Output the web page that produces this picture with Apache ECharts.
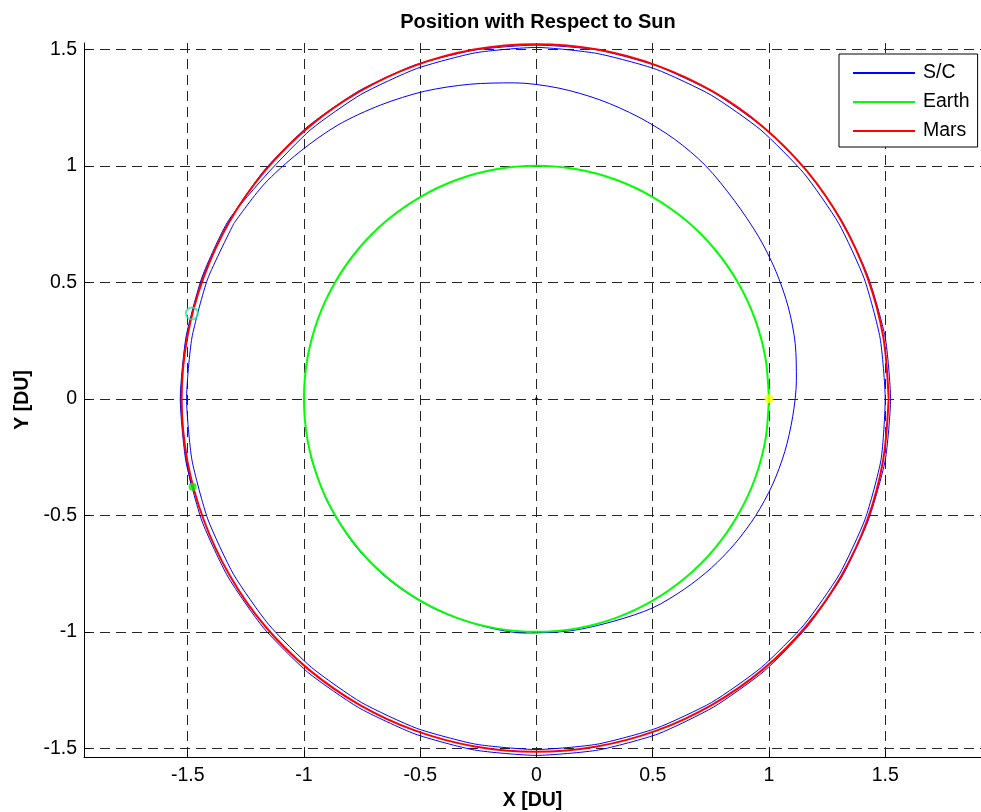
<!DOCTYPE html>
<html>
<head>
<meta charset="utf-8">
<script src="https://cdn.jsdelivr.net/npm/echarts@6/dist/echarts.min.js"></script>
<style>html,body{margin:0;padding:0;background:#fff;}#c{width:981px;height:812px;}</style>
</head>
<body>
<div id="c"></div>
<script>
// ---- data ----
var xTicks = [-1.5, -1, -0.5, 0, 0.5, 1, 1.5];
var yTicks = [-1.5, -1, -0.5, 0, 0.5, 1, 1.5];

var earthOrbit = [[1,0],[0.985,0.174],[0.940,0.342],[0.866,0.5],[0.766,0.643],[0.643,0.766],[0.5,0.866],[0.342,0.940],[0.174,0.985],[0,1],[-0.174,0.985],[-0.342,0.940],[-0.5,0.866],[-0.643,0.766],[-0.766,0.643],[-0.866,0.5],[-0.940,0.342],[-0.985,0.174],[-1,0],[-0.985,-0.174],[-0.940,-0.342],[-0.866,-0.5],[-0.766,-0.643],[-0.643,-0.766],[-0.5,-0.866],[-0.342,-0.940],[-0.174,-0.985],[0,-1],[0.174,-0.985],[0.342,-0.940],[0.5,-0.866],[0.643,-0.766],[0.766,-0.643],[0.866,-0.5],[0.940,-0.342],[0.985,-0.174],[1,0]];

var marsOrbit = [[1.515,0],[1.492,0.264],[1.424,0.520],[1.312,0.762],[1.161,0.980],[0.975,1.167],[0.758,1.319],[0.519,1.430],[0.263,1.499],[-0.003,1.522],[-0.268,1.499],[-0.523,1.430],[-0.762,1.318],[-0.980,1.166],[-1.167,0.979],[-1.320,0.761],[-1.432,0.520],[-1.502,0.264],[-1.526,0],[-1.502,-0.264],[-1.431,-0.520],[-1.318,-0.760],[-1.166,-0.977],[-0.979,-1.162],[-0.761,-1.313],[-0.521,-1.424],[-0.265,-1.492],[-0.003,-1.515],[0.260,-1.492],[0.516,-1.424],[0.755,-1.313],[0.973,-1.162],[1.159,-0.977],[1.311,-0.760],[1.423,-0.520],[1.491,-0.264],[1.515,0]];

var scDeparture = [[-0.97,-0.25],[-0.90,-0.44],[-0.78,-0.63],[-0.63,-0.78],[-0.45,-0.895],[-0.25,-0.97],[-0.05,-1.005],[0.15,-0.995],[0.33,-0.955],[0.5,-0.897]];

var scTransfer = [[0.637,-0.816],[0.752,-0.726],[0.854,-0.621],[0.943,-0.501],[1.015,-0.369],[1.068,-0.227],[1.102,-0.077],[1.118,0.078],[1.113,0.237],[1.083,0.394],[1.030,0.547],[0.956,0.695],[0.851,0.851],[0.727,1.001],[0.593,1.115],[0.440,1.209],[0.273,1.283],[0.093,1.334],[-0.095,1.356],[-0.287,1.350],[-0.481,1.320],[-0.670,1.261],[-0.854,1.175],[-1.022,1.057],[-1.174,0.918],[-1.302,0.752]];

var scLoopInner = [[-1.302,0.752],[-1.414,0.515],[-1.482,0.261],[-1.505,0],[-1.482,-0.261],[-1.414,-0.515],[-1.303,-0.753],[-1.153,-0.967],[-0.967,-1.153],[-0.753,-1.303],[-0.515,-1.414],[-0.261,-1.482],[0,-1.505],[0.261,-1.482],[0.515,-1.414],[0.753,-1.303],[0.967,-1.153],[1.153,-0.967],[1.303,-0.753],[1.414,-0.515],[1.482,-0.261],[1.500,0],[1.478,0.261],[1.410,0.515],[1.300,0.753],[1.151,0.967],[0.966,1.153],[0.752,1.303],[0.515,1.414],[0.261,1.482],[0,1.508],[-0.262,1.485],[-0.516,1.417],[-0.755,1.306],[-0.970,1.156],[-1.155,0.969]];

var scLoopOuter = [[-1.325,0.765],[-1.438,0.523],[-1.507,0.266],[-1.532,0],[-1.508,-0.266],[-1.439,-0.524],[-1.326,-0.765],[-1.173,-0.984],[-0.984,-1.173],[-0.765,-1.325],[-0.523,-1.438],[-0.266,-1.507],[0,-1.53],[0.266,-1.507],[0.523,-1.438],[0.763,-1.322],[0.980,-1.168],[1.165,-0.978],[1.316,-0.760],[1.428,-0.520],[1.500,-0.264],[1.523,0],[1.500,0.264],[1.428,0.520],[1.316,0.760],[1.164,0.977],[0.977,1.164],[0.760,1.316],[0.520,1.428],[0.264,1.497],[0,1.518],[-0.264,1.497],[-0.522,1.433],[-0.763,1.322],[-0.982,1.170],[-1.170,0.982],[-1.322,0.763],[-1.435,0.522],[-1.505,0.265],[-1.530,0],[-1.506,-0.265],[-1.485,-0.370]];

var sunPos = [[0, 0]];
var startPos = [[1, 0]];
var marsEndPos = [[-1.479, -0.377]];
var scEndPos = [[-1.482, 0.366]];

// ---- chart ----
var FONT = '"Liberation Sans", Arial, sans-serif';
var scOutbound = scDeparture.concat(scTransfer);
var scAtMars = scLoopInner.concat(scLoopOuter);
var chart = echarts.init(document.getElementById('c'), null, {renderer: 'canvas'});

function valueAxis(min, max, ticks, name, gap, isY) {
  return {
    type: 'value', min: min, max: max,
    minInterval: 0.5, maxInterval: 0.5, splitNumber: 7,
    name: name, nameLocation: 'middle', nameGap: gap,
    nameRotate: isY ? 90 : 0,
    nameTextStyle: {fontFamily: FONT, fontSize: 19.5, fontWeight: 'bold', color: '#000'},
    axisLine: {show: true, onZero: false, lineStyle: {color: '#000', width: 1}},
    axisTick: {show: true, inside: true, length: 6, lineStyle: {color: '#000'}},
    axisLabel: {show: true, margin: isY ? 7 : 9, fontFamily: FONT, fontSize: 19.5, color: '#000',
      showMinLabel: false, showMaxLabel: false},
    splitLine: {show: true, showMinLine: false, showMaxLine: false,
      lineStyle: {color: '#262626', width: 1, type: [10, 6]}}
  };
}

var option = {
  backgroundColor: '#fff',
  animation: false,
  title: {
    text: 'Position with Respect to Sun',
    left: 533, top: 7, textAlign: 'center',
    textStyle: {fontFamily: FONT, fontSize: 20, fontWeight: 'bold', color: '#000'}
  },
  legend: {
    data: ['S/C', 'Earth', 'Mars'],
    orient: 'vertical',
    left: 839, top: 54,
    padding: [9, 8, 6, 13],
    itemWidth: 62, itemHeight: 20, itemGap: 9,
    itemStyle: {opacity: 0},
    backgroundColor: '#fff', borderColor: '#000', borderWidth: 1, borderRadius: 0,
    textStyle: {fontFamily: FONT, fontSize: 19.5, lineHeight: 20, color: '#000', padding: [0, 0, 0, 3]},
    selectedMode: false
  },
  grid: {left: 84, right: 0, top: 43, bottom: 55, containLabel: false, outerBoundsMode: 'none'},
  xAxis: valueAxis(-1.946, 1.912, xTicks, 'X [DU]', 26, false),
  yAxis: valueAxis(-1.537, 1.527, yTicks, 'Y [DU]', 51, true),
  series: [
    {name: 'S/C', type: 'line', data: scOutbound, symbol: 'none', showSymbol: false,
      lineStyle: {color: '#0000ff', width: 1}, itemStyle: {color: '#0000ff'}, smooth: 0.3, z: 2},
    {name: 'S/C', type: 'line', data: scAtMars, symbol: 'none', showSymbol: false,
      lineStyle: {color: '#0000ff', width: 1}, itemStyle: {color: '#0000ff'}, smooth: 0.2, z: 2},
    {name: 'Earth', type: 'line', data: earthOrbit, symbol: 'none', showSymbol: false,
      lineStyle: {color: '#00ff00', width: 2}, itemStyle: {color: '#00ff00'}, smooth: 0.3, z: 3},
    {name: 'Mars', type: 'line', data: marsOrbit, symbol: 'none', showSymbol: false,
      lineStyle: {color: '#ff0000', width: 2}, itemStyle: {color: '#ff0000'}, smooth: 0.3, z: 4},
    {type: 'scatter', data: sunPos, symbol: 'circle', symbolSize: 3,
      itemStyle: {color: '#000'}, z: 5},
    {type: 'scatter', data: startPos, symbol: 'circle', symbolSize: 9,
      itemStyle: {color: '#ffff00'}, z: 6},
    {type: 'scatter', data: marsEndPos, symbol: 'circle', symbolSize: 8,
      itemStyle: {color: '#00ee00'}, z: 6},
    {type: 'scatter', data: scEndPos, symbol: 'circle', symbolSize: 12,
      itemStyle: {color: 'rgba(0,0,0,0)', borderColor: '#1fe69a', borderWidth: 2}, z: 6}
  ]
};
chart.setOption(option);
</script>
</body>
</html>
